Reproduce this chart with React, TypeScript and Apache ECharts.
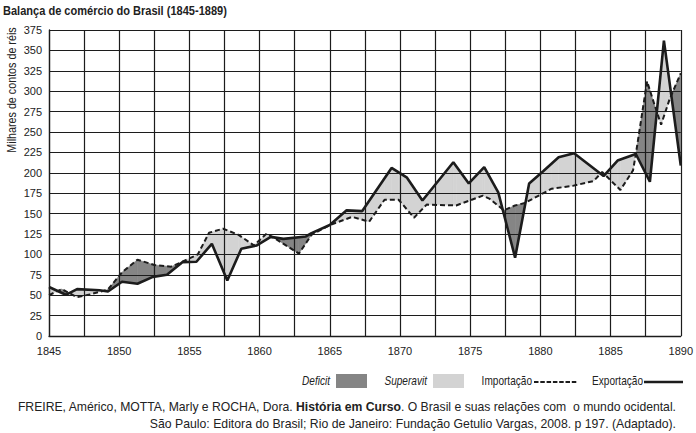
import { useEffect, useRef } from "react";
import * as echarts from "echarts";

const TITLE = "Balança de comércio do Brasil (1845-1889)";
const Y_NAME = "Milhares de contos de réis";
const LEGEND_LABELS = ["Deficit", "Superavit", "Importação", "Exportação"];
const SOURCE_1A = "FREIRE, Américo, MOTTA, Marly e ROCHA, Dora. ";
const SOURCE_1B = "História em Curso";
const SOURCE_1C = ". O Brasil e suas relações com  o mundo ocidental.";
const SOURCE_2 = "São Paulo: Editora do Brasil; Rio de Janeiro: Fundação Getulio Vargas, 2008. p 197. (Adaptado).";

// Exportação (solid line)
const exportYears = [
  1845.0, 1846.2, 1847.0, 1848.6, 1849.2, 1850.2, 1851.3, 1852.4, 1853.4, 1854.5,
  1855.5, 1856.6, 1857.7, 1858.7, 1859.8, 1860.8, 1861.7, 1863.3, 1863.7, 1865.0,
  1866.2, 1867.3, 1869.4, 1870.5, 1871.6, 1873.8, 1874.9, 1876.0, 1877.0, 1878.2,
  1879.2, 1880.2, 1881.3, 1882.4, 1884.5, 1885.5, 1886.8, 1887.8, 1888.8, 1890.0,
];
const exportValues = [
  60, 50.5, 57.5, 56, 54.5, 66.5, 64, 72.5, 75, 90.5,
  91, 113, 68, 107, 111, 121.5, 119, 122, 126, 136,
  154, 153, 206, 194, 166, 213, 187, 207, 176, 96,
  187, 202, 219, 224, 196, 215, 223, 189, 362, 209,
];

// Importação (dashed line)
const importYears = [
  1845.0, 1845.9, 1847.0, 1847.9, 1848.9, 1849.2, 1850.2, 1851.3, 1852.5, 1853.7,
  1854.5, 1855.6, 1856.4, 1857.4, 1858.5, 1859.6, 1860.5, 1861.1, 1862.8, 1863.7,
  1865.0, 1866.6, 1867.8, 1868.9, 1869.9, 1871.0, 1871.9, 1874.0, 1875.9, 1876.4,
  1877.4, 1878.2, 1878.9, 1880.8, 1882.3, 1883.8, 1884.4, 1885.7, 1886.6, 1886.8,
  1887.6, 1888.1, 1888.6, 1889.2, 1890.0,
];
const importValues = [
  50, 57.5, 47.5, 51, 55.5, 57, 78, 93.5, 87, 85,
  91, 100, 126.5, 131.5, 124, 111, 125.5, 119.5, 101, 124,
  136, 146, 140, 167, 167, 145, 161, 160, 172, 168,
  154, 160, 163, 180.5, 184, 190, 201, 179, 203, 223,
  312, 285, 259, 290, 322,
];

// The reference shades this span the opposite way from the rest of the chart.
const flippedShading = [1854.6, 1864.0];

const DEFICIT = "#858585";
const SUPERAVIT = "#d3d3d3";
const INK = "#1c1c1c";
const SANS = "'Liberation Sans', Arial, Helvetica, sans-serif";
const NARROW_SCALE = 0.84;

function interp(xs: number[], ys: number[], x: number): number {
  if (x <= xs[0]) return ys[0];
  for (let i = 0; i < xs.length - 1; i++) {
    if (x >= xs[i] && x <= xs[i + 1]) {
      const t = (x - xs[i]) / (xs[i + 1] - xs[i]);
      return ys[i] + t * (ys[i + 1] - ys[i]);
    }
  }
  return ys[ys.length - 1];
}

function buildSegments(): number[][] {
  const xs = Array.from(new Set([...exportYears, ...importYears])).sort((a, b) => a - b);
  const segs: number[][] = [];
  for (let i = 0; i < xs.length - 1; i++) {
    const a = xs[i];
    const b = xs[i + 1];
    const ia = interp(importYears, importValues, a);
    const ib = interp(importYears, importValues, b);
    const ea = interp(exportYears, exportValues, a);
    const eb = interp(exportYears, exportValues, b);
    const da = ia - ea;
    const db = ib - eb;
    const pts: number[][] = [[a, ia, ea]];
    if (da * db < 0) {
      const t = da / (da - db);
      const xc = a + t * (b - a);
      const yc = ia + t * (ib - ia);
      pts.push([xc, yc, yc]);
    }
    pts.push([b, ib, eb]);
    for (let k = 0; k < pts.length - 1; k++) {
      const p = pts[k];
      const q = pts[k + 1];
      const mid = (p[0] + q[0]) / 2;
      const diff = p[1] - p[2] + (q[1] - q[2]);
      let deficit = diff > 0;
      if (mid > flippedShading[0] && mid < flippedShading[1]) deficit = !deficit;
      segs.push([p[0], q[0], p[1], q[1], p[2], q[2], deficit ? 1 : 0]);
    }
  }
  return segs;
}

export default function App() {
  const ref = useRef<HTMLDivElement>(null);

  useEffect(() => {
    if (!ref.current) return;
    const chart = echarts.init(ref.current, undefined, { renderer: "svg" });
    const segments = buildSegments();
    const exportData = exportYears.map((y, i) => [y, exportValues[i]]);
    const importData = importYears.map((y, i) => [y, importValues[i]]);

    const legendY = 381;
    const legendFont = { fontSize: 12, fontFamily: SANS, fill: "#222" };
    const narrow = { scaleX: NARROW_SCALE, scaleY: 1 };

    chart.setOption({
      animation: false,
      backgroundColor: "#ffffff",
      grid: { left: 49, right: 14, top: 30, bottom: 97, containLabel: false },
      xAxis: {
        type: "value",
        min: 1845,
        max: 1890,
        interval: 2.5,
        axisLine: { show: true, lineStyle: { color: INK, width: 1.3 } },
        axisTick: { show: false },
        splitLine: { show: true, lineStyle: { color: INK, width: 1.2 } },
        axisLabel: {
          color: "#222",
          fontSize: 11,
          fontFamily: SANS,
          margin: 9,
          showMinLabel: true,
          showMaxLabel: true,
          formatter: (v: number) => (v % 5 === 0 ? String(v) : ""),
        },
      },
      yAxis: {
        type: "value",
        min: 0,
        max: 375,
        interval: 25,
        axisLine: { show: true, lineStyle: { color: INK, width: 1.3 } },
        axisTick: { show: false },
        splitLine: { show: true, lineStyle: { color: INK, width: 1.2 } },
        axisLabel: { color: "#222", fontSize: 11, fontFamily: SANS, margin: 7, padding: [5, 0, 0, 0] },
      },
      series: [
        {
          type: "custom",
          name: "Saldo",
          z: -1,
          data: segments,
          encode: { x: [0, 1], y: [2, 3, 4, 5] },
          renderItem: (_params: any, api: any) => {
            const x0 = api.value(0);
            const x1 = api.value(1);
            const i0 = api.value(2);
            const i1 = api.value(3);
            const e0 = api.value(4);
            const e1 = api.value(5);
            const color = api.value(6) ? DEFICIT : SUPERAVIT;
            return {
              type: "polygon",
              shape: {
                points: [api.coord([x0, i0]), api.coord([x1, i1]), api.coord([x1, e1]), api.coord([x0, e0])],
              },
              style: { fill: color, stroke: color, lineWidth: 0.6 },
            };
          },
        },
        {
          type: "line",
          name: "Importação",
          z: 3,
          data: importData,
          symbol: "none",
          lineStyle: { color: INK, width: 2, type: [5, 3] },
        },
        {
          type: "line",
          name: "Exportação",
          z: 4,
          data: exportData,
          symbol: "none",
          lineStyle: { color: INK, width: 2.6 },
        },
      ],
      graphic: [
        {
          type: "text",
          x: 3,
          y: 11,
          scaleX: 0.85,
          scaleY: 1,
          style: {
            text: TITLE,
            fontSize: 13,
            fontWeight: "bold",
            fontFamily: SANS,
            fill: "#222",
            align: "left",
            verticalAlign: "middle",
          },
        },
        {
          type: "text",
          x: 11,
          y: 90,
          rotation: Math.PI / 2,
          scaleX: 0.86,
          scaleY: 1,
          style: {
            text: Y_NAME,
            fontSize: 12.5,
            fontFamily: SANS,
            fill: "#222",
            align: "center",
            verticalAlign: "middle",
          },
        },
        // legend
        {
          type: "text",
          x: 330,
          y: legendY,
          ...narrow,
          style: { ...legendFont, text: LEGEND_LABELS[0], fontStyle: "italic", align: "right", verticalAlign: "middle" },
        },
        { type: "rect", shape: { x: 336, y: legendY - 7, width: 31, height: 14 }, style: { fill: DEFICIT } },
        {
          type: "text",
          x: 427,
          y: legendY,
          ...narrow,
          style: { ...legendFont, text: LEGEND_LABELS[1], fontStyle: "italic", align: "right", verticalAlign: "middle" },
        },
        { type: "rect", shape: { x: 433, y: legendY - 7, width: 31, height: 14 }, style: { fill: SUPERAVIT } },
        {
          type: "text",
          x: 532,
          y: legendY,
          ...narrow,
          style: { ...legendFont, text: LEGEND_LABELS[2], align: "right", verticalAlign: "middle" },
        },
        {
          type: "line",
          shape: { x1: 534, y1: legendY + 1, x2: 577, y2: legendY + 1 },
          style: { stroke: INK, lineWidth: 2, lineDash: [4.5, 1.8] },
        },
        {
          type: "text",
          x: 643,
          y: legendY,
          ...narrow,
          style: { ...legendFont, text: LEGEND_LABELS[3], align: "right", verticalAlign: "middle" },
        },
        {
          type: "line",
          shape: { x1: 644, y1: legendY + 1, x2: 683, y2: legendY + 1 },
          style: { stroke: INK, lineWidth: 2.6 },
        },
        // source
        {
          type: "text",
          x: 676,
          y: 407,
          style: {
            text: `{a|${SOURCE_1A}}{b|${SOURCE_1B}}{a|${SOURCE_1C}}`,
            align: "right",
            verticalAlign: "middle",
            rich: {
              a: { fontSize: 12.2, fontFamily: SANS, fill: "#222" },
              b: { fontSize: 12.2, fontFamily: SANS, fontWeight: "bold", fill: "#222" },
            },
          },
        },
        {
          type: "text",
          x: 676,
          y: 424,
          style: {
            text: SOURCE_2,
            fontSize: 12.25,
            fontFamily: SANS,
            fill: "#222",
            align: "right",
            verticalAlign: "middle",
          },
        },
      ],
    });

    return () => chart.dispose();
  }, []);

  return (
    <div
      ref={ref}
      style={{ position: "fixed", left: 0, top: 0, width: 696, height: 433, background: "#fff" }}
    />
  );
}
